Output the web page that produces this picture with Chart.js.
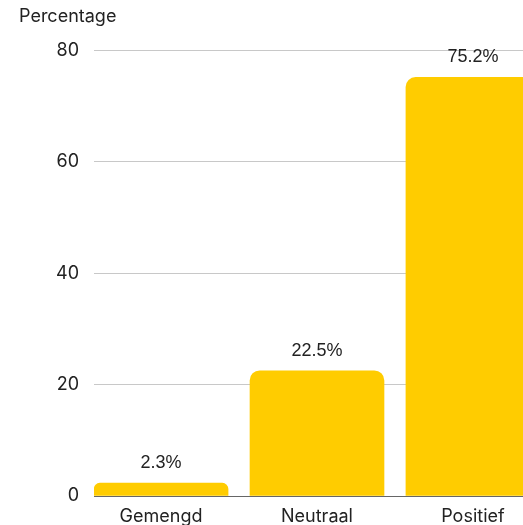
<!DOCTYPE html>
<html>
<head>
<meta charset="utf-8">
<script src="https://cdn.jsdelivr.net/npm/chart.js@4/dist/chart.umd.min.js"></script>
<style>
  html, body { margin: 0; padding: 0; overflow: hidden; background: #fff; }
  #wrap { position: relative; width: 545px; height: 525px; }
</style>
</head>
<body>
<div id="wrap"><canvas id="c"></canvas></div>
<script>
const categories = ["Gemengd", "Neutraal", "Positief"];
const percentages = [2.3, 22.5, 75.2];
const yTicks = [0, 20, 40, 60, 80];
const yTitle = "Percentage";

const axisFont = { family: "Inter", size: 18, weight: "normal" };

const valueLabels = {
  id: "valueLabels",
  afterDatasetsDraw(chart) {
    const ctx = chart.ctx;
    const meta = chart.getDatasetMeta(0);
    ctx.save();
    ctx.font = '18px "Liberation Sans", Arial, sans-serif';
    ctx.fillStyle = "#222";
    ctx.textAlign = "center";
    ctx.textBaseline = "alphabetic";
    meta.data.forEach((bar, i) => {
      ctx.fillText(percentages[i].toFixed(1) + "%", bar.x, bar.y - 15);
    });
    ctx.restore();
  }
};

new Chart(document.getElementById("c"), {
  type: "bar",
  data: {
    datasets: [{
      data: percentages.map((v, i) => ({ x: i, y: v })),
      backgroundColor: "#FFCC00",
      borderRadius: 10,
      borderSkipped: "bottom",
      barThickness: 134
    }]
  },
  options: {
    responsive: true,
    maintainAspectRatio: false,
    animation: false,
    layout: { padding: { left: 19, right: 5, top: 0, bottom: 0 } },
    plugins: {
      legend: { display: false },
      tooltip: { enabled: false },
      title: {
        display: true,
        text: yTitle,
        align: "start",
        color: "#222",
        font: axisFont,
        padding: { top: 6, bottom: 23 }
      }
    },
    scales: {
      x: {
        type: "linear",
        min: -0.43,
        max: 2.43,
        offset: false,
        afterBuildTicks(scale) { scale.ticks = categories.map((_, i) => ({ value: i })); },
        afterFit(scale) { scale.height = 29; },
        ticks: {
          color: "#222",
          font: axisFont,
          padding: 2,
          callback: (v) => categories[v] ?? ""
        },
        grid: { display: false },
        border: { display: true, color: "#666", width: 1 }
      },
      y: {
        min: 0,
        max: 80,
        afterBuildTicks(scale) { scale.ticks = yTicks.map(v => ({ value: v })); },
        afterFit(scale) { scale.width = 75; },
        ticks: { color: "#222", font: axisFont, padding: 15 },
        grid: { color: "#c8c8c8", drawTicks: false },
        border: { display: false }
      }
    }
  },
  plugins: [valueLabels]
});
</script>
</body>
</html>
